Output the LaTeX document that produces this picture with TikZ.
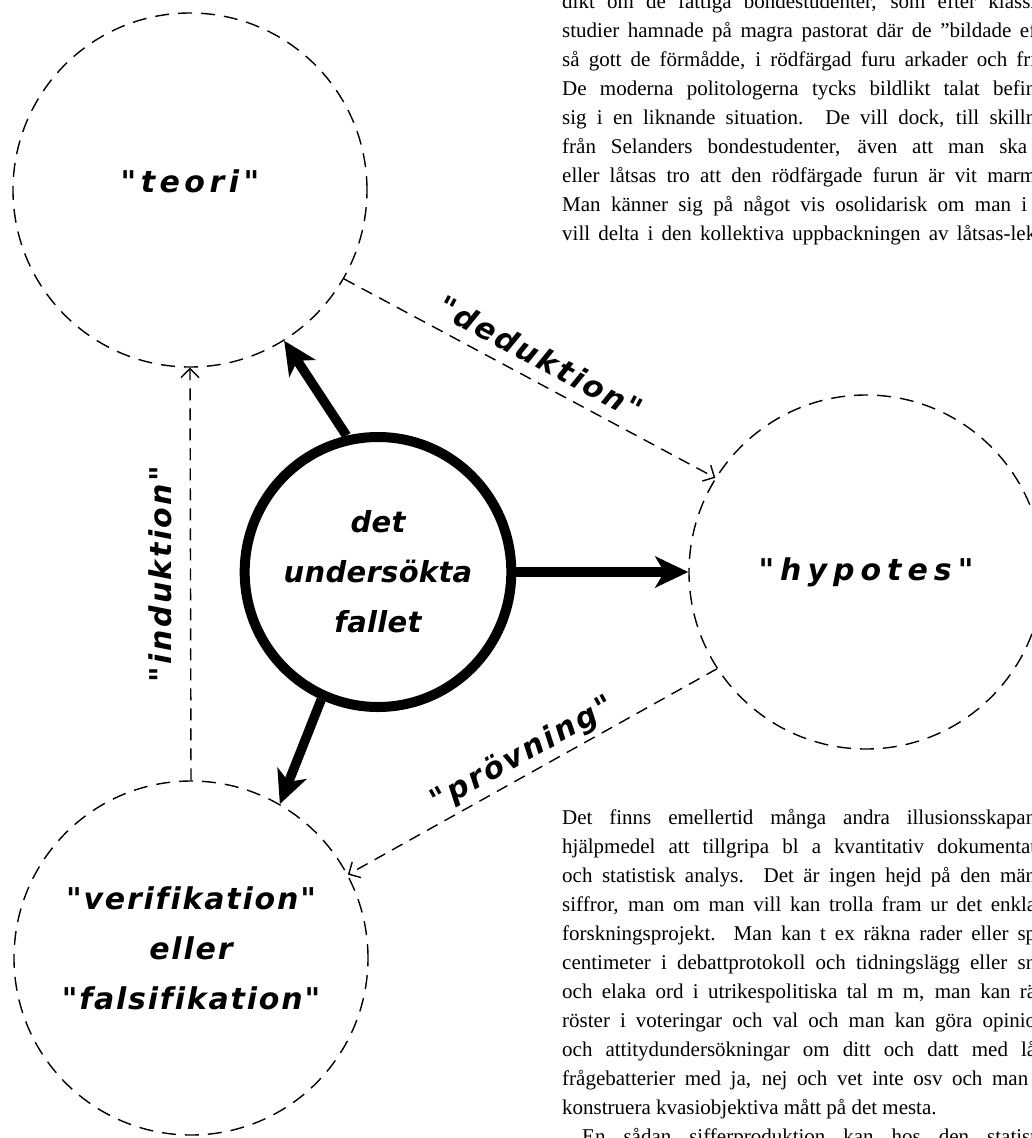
\documentclass[tikz,border=0pt]{standalone}
\usepackage{fontspec}
\usetikzlibrary{arrows.meta,shapes.geometric}
\newfontfamily\bookfont{Liberation Serif}
\newfontfamily\handfont[Ligatures=NoCommon]{DejaVu Sans}
\newcommand{\jline}[2]{\makebox[#1pt][s]{#2}}
\newcommand{\hand}[2]{\handfont\bfseries\itshape\fontsize{#1}{50}\selectfont\addfontfeature{LetterSpace=#2}}

\begin{document}
\begin{tikzpicture}
  [x=1pt,y=-1pt,
   bubble/.style={draw,dash pattern=on 14pt off 9pt,line width=1.4pt,shape=circle,minimum size=354pt,inner sep=0pt,align=center},
   hub/.style={draw,shape=ellipse,line width=10pt,minimum width=234pt,minimum height=270pt,inner sep=0pt,align=center,font=\hand{29}{1}},
   push/.style={line width=9.5pt,-{Stealth[length=33pt,width=31pt,inset=9pt]}},
   guess/.style={line width=1.4pt,dash pattern=on 12pt off 8pt,-{Straight Barb[length=9pt,width=18pt]}},
   tag/.style={font=\hand{30}{8}},
   row/.style={anchor=base west,inner sep=0pt,font=\bookfont\fontsize{21}{29}\selectfont}]

  \useasboundingbox (0,0) rectangle (1032,1138);
  \clip (0,0) rectangle (1032,1138);

  % the four circles
  \node[bubble,font=\hand{30}{15},text depth=18pt] (teori) at (190,190) {"teori"};
  \node[bubble,font=\hand{30}{20}] (hypotes) at (866,572) {"hypotes"};
  \node[bubble,font=\hand{30}{6},text depth=20pt] (verif) at (191,958) {"verifikation"\\eller\\"falsifikation"};
  \node[hub] (fall) at (378,572) {det\\undersökta\\fallet};

  % solid arrows out of the case
  \draw[push] (fall.103) -- (teori.302);
  \draw[push] (fall.east) -- (hypotes.west);
  \draw[push] (fall.246) -- (verif.60);

  % dashed cycle
  \draw[guess] (teori.-30) -- node[tag,sloped,above=8pt,pos=0.5] (ded) {"deduktion"} (hypotes.148);
  \draw[guess] (hypotes.213) -- node[tag,sloped,above=1pt,pos=0.5] (prov) {"prövning"} (verif.28);
  \draw[guess] (verif.north) -- node[tag,xshift=-30pt,rotate=90] (ind) {"induktion"} (teori.south);

  % text above
  \node[row] (t0) at (562,8) {\jline{474}{dikt om de fattiga bondestudenter, som efter klassi}};
  \node[row] (t1) at (562,37) {\jline{474}{studier hamnade på magra pastorat där de ”bildade ef}};
  \node[row] (t2) at (562,66) {\jline{474}{så gott de förmådde, i rödfärgad furu arkader och fri}};
  \node[row] (t3) at (562,95) {\jline{474}{De moderna politologerna tycks bildlikt talat befin}};
  \node[row] (t4) at (562,124) {\jline{474}{sig i en liknande situation. De vill dock, till skilln}};
  \node[row] (t5) at (562,153) {\jline{465}{från Selanders bondestudenter, även att man ska}};
  \node[row] (t6) at (562,182) {\jline{474}{eller låtsas tro att den rödfärgade furun är vit marm}};
  \node[row] (t7) at (562,211) {\jline{465}{Man känner sig på något vis osolidarisk om man i}};
  \node[row] (t8) at (562,240) {\jline{474}{vill delta i den kollektiva uppbackningen av låtsas-lek}};

  % text below
  \node[row] (b0) at (562,824) {\jline{474}{Det finns emellertid många andra illusionsskapan}};
  \node[row] (b1) at (562,853) {\jline{474}{hjälpmedel att tillgripa bl a kvantitativ dokumentat}};
  \node[row] (b2) at (562,882) {\jline{474}{och statistisk analys. Det är ingen hejd på den män}};
  \node[row] (b3) at (562,911) {\jline{474}{siffror, man om man vill kan trolla fram ur det enkla}};
  \node[row] (b4) at (562,940) {\jline{474}{forskningsprojekt. Man kan t ex räkna rader eller sp}};
  \node[row] (b5) at (562,969) {\jline{474}{centimeter i debattprotokoll och tidningslägg eller sn}};
  \node[row] (b6) at (562,998) {\jline{474}{och elaka ord i utrikespolitiska tal m m, man kan rä}};
  \node[row] (b7) at (562,1027) {\jline{474}{röster i voteringar och val och man kan göra opinio}};
  \node[row] (b8) at (562,1056) {\jline{474}{och attitydundersökningar om ditt och datt med lå}};
  \node[row] (b9) at (562,1085) {\jline{466}{frågebatterier med ja, nej och vet inte osv och man}};
  \node[row] (b10) at (562,1114) {konstruera kvasiobjektiva mått på det mesta.};
  \node[row] (b11) at (582,1143) {\jline{454}{En sådan sifferproduktion kan hos den statist}};
\end{tikzpicture}
\end{document}
